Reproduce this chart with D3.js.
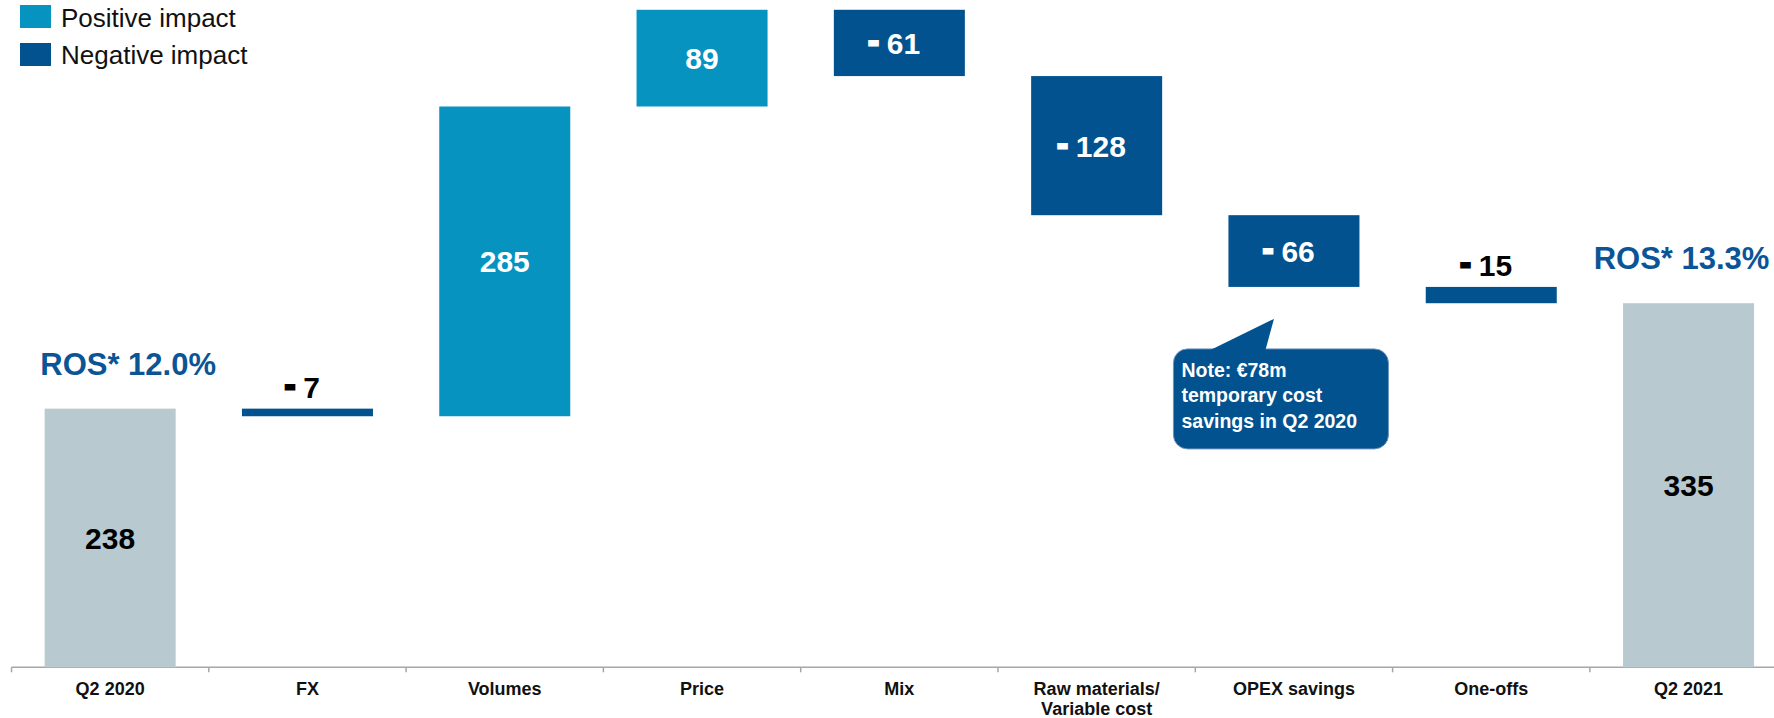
<!DOCTYPE html>
<html>
<head>
<meta charset="utf-8">
<script src="https://cdn.jsdelivr.net/npm/d3@7"></script>
<style>
  body { margin: 0; background: #fff; }
  svg { display: block; font-family: "Liberation Sans", Arial, sans-serif; }
</style>
</head>
<body>
<div id="chart"></div>
<script>
// ===========================================
// Data
var categories = ["Q2 2020", "FX", "Volumes", "Price", "Mix", "Raw materials/\nVariable cost", "OPEX savings", "One-offs", "Q2 2021"];
var values = [238, -7, 285, 89, -61, -128, -66, -15, 335];
var kinds = ["total", "delta", "delta", "delta", "delta", "delta", "delta", "delta", "total"];
var rosLabels = ["ROS* 12.0%", "", "", "", "", "", "", "", "ROS* 13.3%"];
var legendItems = ["Positive impact", "Negative impact"];
var noteLines = ["Note: €78m", "temporary cost", "savings in Q2 2020"];

// ===========================================
// Set up SVG
var svgWidth = 1774;
var svgHeight = 718;

var colors = { pos: "#0693C0", neg: "#01528F", total: "#B8C9D0", ros: "#0B5596", axis: "#A6A6A6" };

var svg = d3.select("#chart")
    .append("svg")
    .attr("width", svgWidth)
    .attr("height", svgHeight);

// build waterfall rows
var running = 0;
var rows = categories.map(function(c, i) {
    var v = values[i];
    var start, end;
    if (kinds[i] == "total") { start = 0; end = v; running = v; }
    else { start = running; end = running + v; running = end; }
    return { cat: c, value: v, kind: kinds[i], start: start, end: end, ros: rosLabels[i] };
});

var xscale = d3.scaleBand()
    .domain(categories)
    .range([11.5, 1787.2])
    .paddingInner(0.336)
    .paddingOuter(0.168);

var yscale = d3.scaleLinear().domain([0, 614]).range([667.3, 0]);

var gap = (xscale.step() - xscale.bandwidth()) / 2;

// ===========================================
// Axis
var axisY = yscale(0);
svg.append("line")
    .attr("x1", xscale(categories[0]) - gap)
    .attr("x2", svgWidth)
    .attr("y1", axisY).attr("y2", axisY)
    .attr("stroke", colors.axis)
    .attr("stroke-width", 1.5);

svg.selectAll(".tickmark")
    .data(categories)
    .enter()
    .append("line")
    .attr("class", "tickmark")
    .attr("x1", d => xscale(d) - gap)
    .attr("x2", d => xscale(d) - gap)
    .attr("y1", axisY)
    .attr("y2", axisY + 5)
    .attr("stroke", colors.axis)
    .attr("stroke-width", 1.5);

var xAxis = d3.axisBottom(xscale).tickSize(0).tickFormat("");
var axisG = svg.append("g")
    .attr("transform", `translate(0, ${axisY})`)
    .call(xAxis);
axisG.select(".domain").remove();

axisG.selectAll(".tick")
    .append("text")
    .attr("text-anchor", "middle")
    .attr("font-size", "18px")
    .attr("font-weight", "bold")
    .attr("fill", "#111")
    .each(function(d) {
        var lines = d.split("\n");
        var t = d3.select(this);
        lines.forEach(function(l, k) {
            t.append("tspan").attr("x", 0).attr("y", 28 + k * 20).text(l);
        });
    });

// ===========================================
// Bars
svg.selectAll(".bar")
    .data(rows)
    .enter()
    .append("rect")
    .attr("class", "bar")
    .attr("x", d => xscale(d.cat))
    .attr("width", xscale.bandwidth())
    .attr("y", d => yscale(Math.max(d.start, d.end)))
    .attr("height", d => Math.abs(yscale(d.start) - yscale(d.end)))
    .attr("fill", d => d.kind == "total" ? colors.total : (d.value >= 0 ? colors.pos : colors.neg));

// value labels
svg.selectAll(".vlabel")
    .data(rows)
    .enter()
    .append("text")
    .attr("class", "vlabel")
    .attr("text-anchor", "middle")
    .attr("font-size", "30px")
    .attr("font-weight", "bold")
    .each(function(d) {
        var top = yscale(Math.max(d.start, d.end));
        var bot = yscale(Math.min(d.start, d.end));
        var inside = (bot - top) > 40;
        var cx = xscale(d.cat) + xscale.bandwidth() / 2;
        var fill = (d.kind == "total" || !inside) ? "#000" : "#fff";
        var t = d3.select(this)
            .attr("fill", fill)
            .attr("x", d.value < 0 ? cx - 5 : cx)
            .attr("y", inside ? (top + bot) / 2 + 11 : top - 11);
        if (d.value < 0) {
            t.append("tspan")
                .attr("dy", -3)
                .attr("stroke", fill)
                .attr("stroke-width", 3)
                .text("-");
            t.append("tspan").attr("dy", 3).text(" " + Math.abs(d.value));
        } else {
            t.text(d.value);
        }
    });

// ROS annotations
var rosOffset = { "Q2 2020": 18, "Q2 2021": -7 };
svg.selectAll(".ros")
    .data(rows.filter(d => d.ros != ""))
    .enter()
    .append("text")
    .attr("class", "ros")
    .attr("x", d => xscale(d.cat) + xscale.bandwidth() / 2 + rosOffset[d.cat])
    .attr("y", d => yscale(d.end) - 34)
    .attr("text-anchor", "middle")
    .attr("font-size", "31px")
    .attr("font-weight", "bold")
    .attr("fill", colors.ros)
    .text(d => d.ros);

// ===========================================
// Callout note under OPEX savings
var opex = rows[6];
var ox = xscale(opex.cat);
var boxX = ox - 55, boxY = yscale(opex.end) + 62, boxW = 215, boxH = 100;
var tipX = ox + xscale.bandwidth() / 2 - 20, tipY = yscale(opex.end) + 32;

var callout = svg.append("g");
callout.append("rect")
    .attr("x", boxX).attr("y", boxY)
    .attr("width", boxW).attr("height", boxH)
    .attr("rx", 14).attr("ry", 14)
    .attr("fill", colors.neg)
    .attr("stroke", "#6f93bb")
    .attr("stroke-width", 1);
callout.append("path")
    .attr("d", `M${boxX + 37},${boxY + 1} L${tipX},${tipY} L${boxX + 92},${boxY + 1} Z`)
    .attr("fill", colors.neg);

callout.append("text")
    .attr("font-size", "19.5px")
    .attr("font-weight", "bold")
    .attr("fill", "#fff")
    .selectAll("tspan")
    .data(noteLines)
    .enter()
    .append("tspan")
    .attr("x", boxX + 8)
    .attr("y", (d, i) => boxY + 28 + i * 25.5)
    .text(d => d);

// ===========================================
// Legend
var legend = svg.append("g");
legendItems.forEach(function(name, i) {
    legend.append("rect")
        .attr("x", 20).attr("y", 5 + i * 38)
        .attr("width", 31).attr("height", 23)
        .attr("fill", i == 0 ? colors.pos : colors.neg);
    legend.append("text")
        .attr("x", 61).attr("y", 27 + i * 37)
        .attr("font-size", "26px")
        .attr("fill", "#111")
        .text(name);
});
</script>
</body>
</html>
